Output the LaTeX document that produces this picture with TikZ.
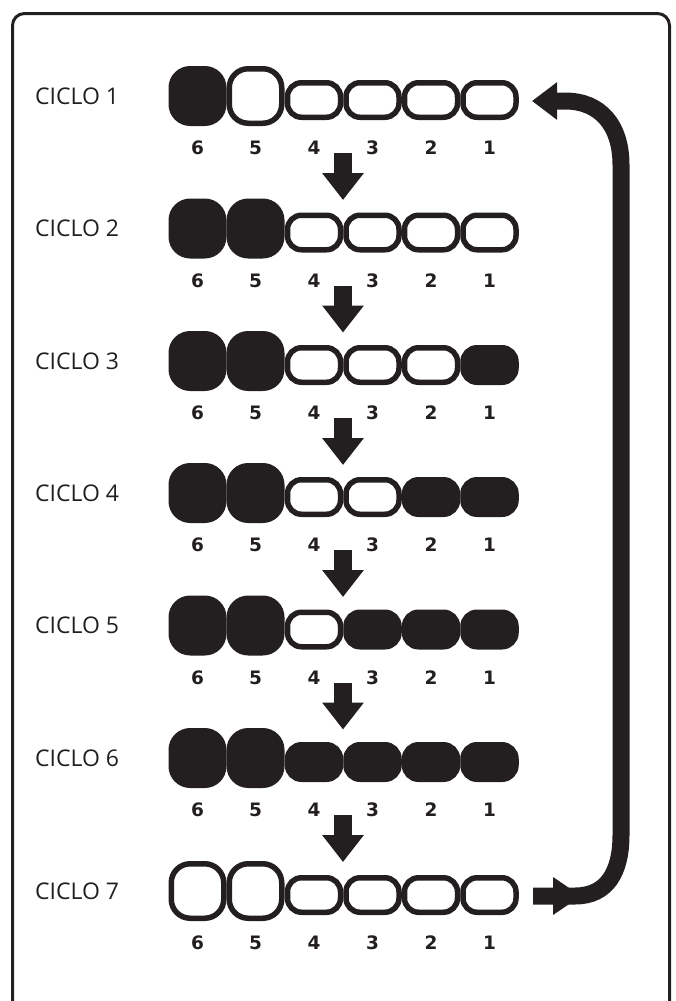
\documentclass[tikz,border=0pt]{standalone}
\usepackage{fontspec}
\setmainfont{Open Sans}
\newfontfamily\digfont{DejaVu Sans}
\usetikzlibrary{arrows.meta}
\definecolor{ink}{HTML}{231F20}
\tikzset{
  frame/.style={draw=ink, line width=3pt, rounded corners=12pt},
  lbl/.style={anchor=west, inner sep=0pt, text=ink, font=\fontsize{23}{24}\selectfont},
  dig/.style={anchor=base, inner sep=0pt, text=ink, font=\digfont\fontsize{18.5}{18}\selectfont\bfseries},
  bigc/.style={draw=ink, line width=5.5pt, rounded corners=19pt, minimum width=52.5pt, minimum height=54.5pt, inner sep=0pt},
  smc/.style={draw=ink, line width=5.5pt, rounded corners=14pt, minimum width=53pt, minimum height=34.5pt, inner sep=0pt},
  cellon/.style={fill=ink},
  celloff/.style={fill=white},
  downarrow/.style={draw=ink, line width=18pt, -{Triangle[width=40pt,length=27pt]}},
  retarrow/.style={draw=ink, line width=17pt, -{Triangle[width=36pt,length=25pt]}}
}
\newcommand\cycrow[8]{%
  \node[lbl] (l#1) at (35,#2) {CICLO #1};
  \node[bigc,#3] (c#1-6) at (197.5,#2) {};
  \node[bigc,#4] (c#1-5) at (255.5,#2) {};
  \node[smc,#5] (c#1-4) at (314,#2+4) {};
  \node[smc,#6] (c#1-3) at (372.5,#2+4) {};
  \node[smc,#7] (c#1-2) at (431,#2+4) {};
  \node[smc,#8] (c#1-1) at (489.5,#2+4) {};
  \node[dig] (d#1-6) at (197.5,#2+58.5) {6};
  \node[dig] (d#1-5) at (255.5,#2+58.5) {5};
  \node[dig] (d#1-4) at (314,#2+58.5) {4};
  \node[dig] (d#1-3) at (372.5,#2+58.5) {3};
  \node[dig] (d#1-2) at (431,#2+58.5) {2};
  \node[dig] (d#1-1) at (489.5,#2+58.5) {1};
}
\newcommand\downarr[2]{%
  \coordinate (a#1s) at (343,#2+57);
  \coordinate (a#1e) at (343,#2+104);
  \draw[downarrow] (a#1s) -- (a#1e);
}
\begin{document}
\begin{tikzpicture}[x=1pt,y=-1pt]
\useasboundingbox (0,0) rectangle (675,1001);
\draw[frame] (12.5,1001) -- (12.5,13.5) -- (669.5,13.5) -- (669.5,1001);
\cycrow{1}{96}{cellon}{celloff}{celloff}{celloff}{celloff}{celloff}
\cycrow{2}{228.5}{cellon}{cellon}{celloff}{celloff}{celloff}{celloff}
\cycrow{3}{361}{cellon}{cellon}{celloff}{celloff}{celloff}{cellon}
\cycrow{4}{493}{cellon}{cellon}{celloff}{celloff}{cellon}{cellon}
\cycrow{5}{625.5}{cellon}{cellon}{celloff}{cellon}{cellon}{cellon}
\cycrow{6}{758}{cellon}{cellon}{cellon}{cellon}{cellon}{cellon}
\cycrow{7}{891}{celloff}{celloff}{celloff}{celloff}{celloff}{celloff}
\downarr{1}{96}
\downarr{2}{228.5}
\downarr{3}{361}
\downarr{4}{493}
\downarr{5}{625.5}
\downarr{6}{758}
\coordinate (rs) at (533,896);
\coordinate (re) at (532,101);
\draw[retarrow] (rs) -- (575,896) .. controls (607,896) and (621,872) .. (621,835) -- (621,165) .. controls (621,125) and (600,101) .. (565,101) -- (re);
\fill[ink] (553,877) -- (581,896) -- (553,915) -- cycle;
\end{tikzpicture}
\end{document}
